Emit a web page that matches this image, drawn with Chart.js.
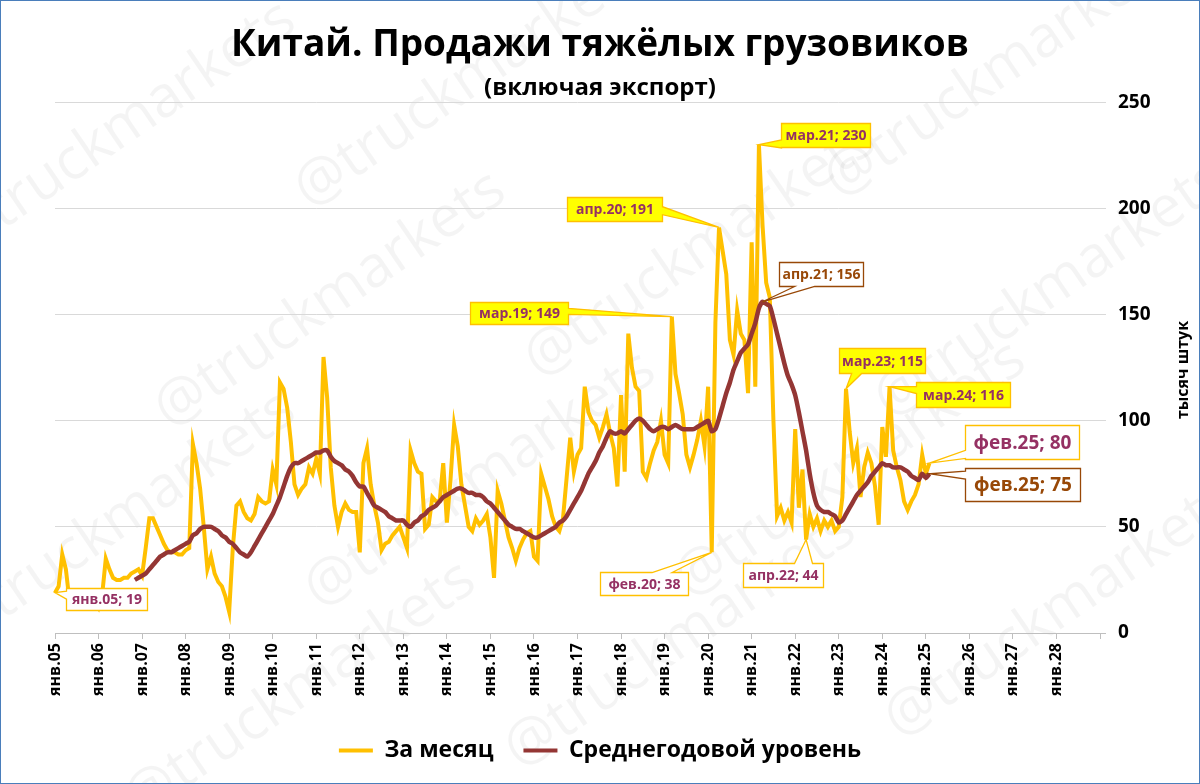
<!DOCTYPE html>
<html>
<head>
<meta charset="utf-8">
<title>Китай. Продажи тяжёлых грузовиков</title>
<script src="https://cdn.jsdelivr.net/npm/chart.js@4.4.1/dist/chart.umd.min.js"></script>
<style>
  html, body { margin: 0; padding: 0; background: #fff; }
  canvas { display: block; }
</style>
</head>
<body>
<canvas id="truckChart" width="1200" height="784"></canvas>
<script>
// --- data (thousand units) ---
var monthNames = ['янв', 'фев', 'мар', 'апр', 'май', 'июн', 'июл', 'авг', 'сен', 'окт', 'ноя', 'дек'];
var firstYear = 2005;
var axisYears = 24; // axis runs янв.05 .. янв.29 (last label shown: янв.28)

var chartTitle = 'Китай. Продажи тяжёлых грузовиков';
var chartSubtitle = '(включая экспорт)';
var yTitle = 'тысяч штук';
var seriesNames = ['За месяц', 'Среднегодовой уровень'];
var yTicks = [0, 50, 100, 150, 200, 250];

// monthly sales, янв.05 .. фев.25
var monthly = [
  19, 22, 37, 30, 15, 12, 12, 13, 12, 14, 13, 15,
  12, 18, 35, 30, 26, 25, 25, 26, 26, 28, 29, 30,
  27, 40, 54, 54, 50, 46, 42, 39, 38, 38, 37, 37,
  39, 40, 89, 80, 68, 50, 30, 36, 28, 24, 22, 17,
  10, 40, 60, 62, 57, 54, 53, 56, 64, 62, 61, 62,
  77, 70, 118, 115, 106, 90, 70, 65, 68, 70, 78, 75,
  82, 75, 130, 111, 78, 60, 50, 57, 61, 58, 57, 57,
  38, 80, 87, 70, 60, 52, 39, 42, 43, 46, 48, 50,
  45, 40, 86, 80, 76, 75, 49, 51, 64, 62, 62, 80,
  52, 72, 98, 88, 70, 60, 50, 48, 54, 51, 53, 56,
  45, 26, 67, 61, 53, 45, 40, 34, 40, 44, 47, 48,
  36, 34, 75, 69, 63, 55, 50, 48, 54, 73, 92, 76,
  84, 87, 116, 104, 100, 98, 92, 97, 103, 94, 87, 69,
  112, 76, 141, 125, 116, 114, 76, 73, 80, 86, 90, 100,
  84, 80, 149, 122, 113, 103, 84, 78, 84, 91, 100, 88,
  116, 38, 146, 191, 180, 169, 138, 131, 152, 141, 138, 113,
  184, 116, 230, 192, 165, 158, 100, 55, 59, 53, 57, 52,
  96, 59, 77, 44, 56, 50, 54, 48, 53, 50, 53, 48,
  50, 64, 115, 95, 80, 87, 64, 78, 85, 80, 69, 51,
  97, 83, 116, 86, 78, 72, 62, 58, 62, 65, 70, 84,
  75, 80
];

// 12-month average level
var yearlyAvg = [
  null, null, null, null, null, null, null, null, null, null, null, null,
  null, null, null, null, null, null, null, null, null, null, 25, 26,
  27, 28, 30, 32, 34, 36, 37, 38, 38, 39, 40, 41,
  42, 43, 46, 47, 49, 50, 50, 50, 49, 48, 46, 45,
  43, 42, 40, 38, 37, 36, 38, 41, 44, 47, 50, 53,
  56, 60, 64, 69, 74, 78, 80, 80, 81, 82, 83, 84,
  85, 85, 86, 86, 83, 81, 80, 79, 77, 76, 74, 71,
  69, 69, 66, 63, 60, 59, 58, 57, 55, 54, 53, 53,
  53, 51, 50, 52, 53, 55, 56, 58, 59, 60, 62, 64,
  65, 66, 67, 68, 68, 67, 66, 66, 65, 65, 64, 62,
  61, 59, 57, 55, 53, 51, 50, 49, 49, 48, 47, 46,
  45, 45, 46, 47, 48, 49, 50, 52, 53, 55, 58, 61,
  64, 67, 71, 75, 78, 81, 85, 88, 92, 95, 94, 94,
  95, 94, 96, 98, 100, 101, 100, 98, 96, 95, 96, 97,
  97, 96, 97, 98, 97, 96, 96, 96, 96, 97, 98, 99,
  100, 95, 96, 101, 107, 113, 118, 124, 128, 132, 134, 136,
  141, 146, 153, 156, 155, 154, 148, 141, 134, 127, 121, 117,
  112, 104, 95, 86, 75, 66, 60, 58, 57, 57, 56, 55,
  52, 53, 56, 59, 62, 65, 67, 69, 71, 74, 76, 78,
  80, 79, 79, 78, 78, 78, 77, 76, 74, 73, 72, 75,
  73, 75
];

var months = [];
for (var y = 0; y <= axisYears; y++) {
  for (var m = 0; m < 12; m++) {
    if (y === axisYears && m > 0) break;
    var yy = String((firstYear + y) % 100);
    if (yy.length < 2) yy = '0' + yy;
    months.push(monthNames[m] + '.' + yy);
  }
}

// --- styles ---
var FONT = '"Open Sans", "Noto Sans", sans-serif';
var GOLD = '#FFC000';
var DARKRED = '#943634';
var PURPLE = '#953163';
var BROWN = '#984807';

// data callouts: which point, where the box sits relative to it
var callouts = [
  { ds: 0, idx: 0,   bx: 11,   by: -5,  w: 81,  h: 22, side: 'left',   at: 0.3,  base: 8,  fill: '#fff',    border: GOLD,  color: PURPLE, size: 14 },
  { ds: 0, idx: 181, bx: -112, by: 20,  w: 88,  h: 23, side: 'top',    at: 0.7,  base: 20, fill: '#fff',    border: GOLD,  color: PURPLE, size: 14 },
  { ds: 0, idx: 183, bx: -152, by: -30, w: 95,  h: 24, side: 'right',  at: 0.55, base: 8,  fill: '#FFFF00', border: GOLD,  color: PURPLE, size: 14 },
  { ds: 0, idx: 170, bx: -202, by: -15, w: 98,  h: 22, side: 'right',  at: 0.4,  base: 6,  fill: '#FFFF00', border: GOLD,  color: PURPLE, size: 14 },
  { ds: 0, idx: 194, bx: 22,   by: -22, w: 89,  h: 24, side: 'left',   at: 0.85, base: 8,  fill: '#FFFF00', border: GOLD,  color: PURPLE, size: 14 },
  { ds: 1, idx: 195, bx: 16,   by: -40, w: 84,  h: 24, side: 'bottom', at: 0.3,  base: 20, fill: '#fff',    border: BROWN, color: BROWN,  size: 14 },
  { ds: 0, idx: 207, bx: -63,  by: 23,  w: 80,  h: 24, side: 'top',    at: 0.75, base: 18, fill: '#fff',    border: GOLD,  color: PURPLE, size: 14 },
  { ds: 0, idx: 218, bx: -7,   by: -41, w: 86,  h: 25, side: 'bottom', at: 0.2,  base: 10, fill: '#FFFF00', border: GOLD,  color: PURPLE, size: 14 },
  { ds: 0, idx: 230, bx: 26,   by: -5,  w: 94,  h: 25, side: 'left',   at: 0.3,  base: 7,  fill: '#FFFF00', border: GOLD,  color: PURPLE, size: 14 },
  { ds: 0, idx: 241, bx: 36,   by: -38, w: 114, h: 34, side: 'left',   at: 0.85, base: 8,  fill: '#fff',    border: GOLD,  color: PURPLE, size: 19 },
  { ds: 1, idx: 241, bx: 36,   by: -6,  w: 115, h: 33, side: 'left',   at: 0.2,  base: 8,  fill: '#fff',    border: BROWN, color: BROWN,  size: 19 }
];

var watermarks = [[120, 130], [470, 80], [1000, 70], [330, 300], [700, 250], [1050, 290], [120, 520], [480, 480], [850, 470], [300, 690], [680, 640], [1060, 610]];

function calloutPath(ctx, l, t, r, b, c, px, py) {
  var half = c.base / 2, s;
  ctx.beginPath();
  ctx.moveTo(l, t);
  if (c.side === 'top') {
    s = l + (r - l) * c.at;
    ctx.lineTo(s - half, t); ctx.lineTo(px, py); ctx.lineTo(s + half, t);
  }
  ctx.lineTo(r, t);
  if (c.side === 'right') {
    s = t + (b - t) * c.at;
    ctx.lineTo(r, s - half); ctx.lineTo(px, py); ctx.lineTo(r, s + half);
  }
  ctx.lineTo(r, b);
  if (c.side === 'bottom') {
    s = l + (r - l) * c.at;
    ctx.lineTo(s + half, b); ctx.lineTo(px, py); ctx.lineTo(s - half, b);
  }
  ctx.lineTo(l, b);
  if (c.side === 'left') {
    s = t + (b - t) * c.at;
    ctx.lineTo(l, s + half); ctx.lineTo(px, py); ctx.lineTo(l, s - half);
  }
  ctx.closePath();
}

var decor = {
  id: 'decor',
  beforeDraw: function (chart) {
    var ctx = chart.ctx;
    ctx.save();
    ctx.fillStyle = '#fff';
    ctx.fillRect(0, 0, chart.width, chart.height);
    ctx.font = '58px ' + FONT;
    ctx.fillStyle = 'rgba(0, 0, 0, 0.045)';
    ctx.textAlign = 'center';
    ctx.textBaseline = 'middle';
    watermarks.forEach(function (p) {
      ctx.save();
      ctx.translate(p[0], p[1]);
      ctx.rotate(-0.6);
      ctx.fillText('@truckmarkets', 0, 0);
      ctx.restore();
    });
    ctx.restore();
  },
  afterDatasetsDraw: function (chart) {
    var ctx = chart.ctx;
    var sets = [monthly, yearlyAvg];
    ctx.save();
    callouts.forEach(function (c) {
      var pt = chart.getDatasetMeta(c.ds).data[c.idx];
      var px = pt.x, py = pt.y;
      var l = Math.round(px + c.bx) + 0.5, t = Math.round(py + c.by) + 0.5;
      var r = l + c.w, b = t + c.h;
      calloutPath(ctx, l, t, r, b, c, px, py);
      ctx.fillStyle = c.fill;
      ctx.fill();
      ctx.lineWidth = 1.3;
      ctx.strokeStyle = c.border;
      ctx.stroke();
      ctx.fillStyle = c.color;
      ctx.font = 'bold ' + c.size + 'px ' + FONT;
      ctx.textAlign = 'center';
      ctx.textBaseline = 'middle';
      ctx.fillText(months[c.idx] + '; ' + sets[c.ds][c.idx], (l + r) / 2, (t + b) / 2 + 1);
    });
    ctx.restore();
  },
  afterDraw: function (chart) {
    var ctx = chart.ctx;
    ctx.save();
    // rotated axis title on the right, reading upwards
    ctx.translate(1183, 370);
    ctx.rotate(-Math.PI / 2);
    ctx.font = 'bold 16px ' + FONT;
    ctx.fillStyle = '#000';
    ctx.textAlign = 'center';
    ctx.textBaseline = 'middle';
    ctx.fillText(yTitle, 0, 0);
    ctx.restore();
    ctx.save();
    ctx.strokeStyle = '#4a7ebb';
    ctx.lineWidth = 1;
    ctx.strokeRect(0.5, 0.5, chart.width - 1, chart.height - 1);
    ctx.restore();
  }
};

var ctx = document.getElementById('truckChart').getContext('2d');
new Chart(ctx, {
  type: 'line',
  data: {
    labels: months,
    datasets: [
      {
        label: seriesNames[0],
        data: monthly,
        borderColor: GOLD,
        backgroundColor: GOLD,
        borderWidth: 4,
        pointRadius: 0,
        tension: 0,
        order: 1
      },
      {
        label: seriesNames[1],
        data: yearlyAvg,
        borderColor: DARKRED,
        backgroundColor: DARKRED,
        borderWidth: 4.5,
        pointRadius: 0,
        tension: 0.2,
        order: 0
      }
    ]
  },
  options: {
    responsive: false,
    animation: false,
    events: [],
    layout: { padding: { left: 0, right: 0, top: 0, bottom: 12 } },
    plugins: {
      title: {
        display: true,
        text: chartTitle,
        color: '#000',
        font: { family: FONT, size: 37, weight: 'bold' },
        padding: { top: 23, bottom: 0 }
      },
      subtitle: {
        display: true,
        text: chartSubtitle,
        color: '#000',
        font: { family: FONT, size: 24, weight: 'bold' },
        padding: { top: 6, bottom: 0 }
      },
      legend: {
        position: 'bottom',
        labels: {
          color: '#000',
          font: { family: FONT, size: 23, weight: 'bold' },
          boxWidth: 34,
          boxHeight: 4,
          padding: 30,
          sort: function (a, b) { return a.datasetIndex - b.datasetIndex; },
          generateLabels: function (chart) {
            var items = Chart.defaults.plugins.legend.labels.generateLabels(chart);
            items.forEach(function (it) { it.lineWidth = 0; });
            return items;
          }
        }
      },
      tooltip: { enabled: false }
    },
    scales: {
      x: {
        type: 'category',
        offset: false,
        grid: {
          drawOnChartArea: false,
          tickLength: 6,
          color: function (c) { return c.index % 12 === 0 ? '#bfbfbf' : 'rgba(0,0,0,0)'; }
        },
        border: { display: true, color: '#bfbfbf' },
        ticks: {
          autoSkip: false,
          maxRotation: 90,
          minRotation: 90,
          padding: 4,
          color: '#000',
          font: { family: FONT, size: 16, weight: 'bold' },
          callback: function (v, i) { return (i % 12 === 0 && i < axisYears * 12) ? months[i] : ''; }
        },
        afterFit: function (s) { s.height = 76; }
      },
      // empty left margin so the plot starts where the original does
      yLeft: {
        position: 'left',
        display: true,
        grid: { display: false },
        border: { display: false },
        ticks: { display: false },
        afterFit: function (s) { s.width = 55; }
      },
      y: {
        position: 'right',
        min: yTicks[0],
        max: yTicks[yTicks.length - 1],
        afterBuildTicks: function (s) { s.ticks = yTicks.map(function (v) { return { value: v }; }); },
        grid: {
          tickLength: 6,
          color: function (c) { return c.tick && c.tick.value === 0 ? '#bfbfbf' : '#d9d9d9'; }
        },
        border: { display: false },
        ticks: {
          padding: 12,
          color: '#000',
          font: { family: FONT, size: 19, weight: 'bold' }
        },
        afterFit: function (s) { s.width = 100; }
      }
    }
  },
  plugins: [decor]
});
</script>
</body>
</html>
